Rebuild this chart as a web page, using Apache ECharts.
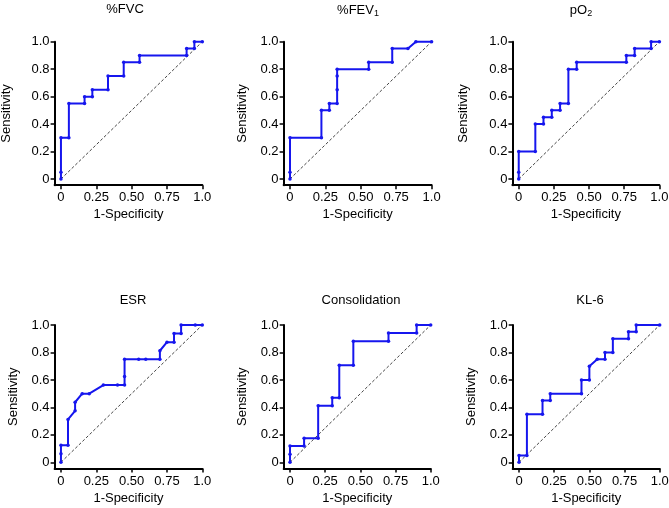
<!DOCTYPE html>
<html>
<head>
<meta charset="utf-8">
<title>ROC curves</title>
<script src="https://cdn.jsdelivr.net/npm/echarts@6/dist/echarts.min.js"></script>
<style>
  html, body { margin: 0; padding: 0; background: #fff; }
  #chart { width: 669px; height: 508px; }
</style>
</head>
<body>
<div id="chart"></div>
<script>
// tick positions and labels
const xTickValues = [0, 0.25, 0.5, 0.75, 1];
const xTickLabels = ['0', '0.25', '0.50', '0.75', '1.0'];
const yTickValues = [0, 0.2, 0.4, 0.6, 0.8, 1];
const yTickLabels = ['0', '0.2', '0.4', '0.6', '0.8', '1.0'];

// panel titles
const panelTitles = ['%FVC', '%FEV{sub|1}', 'pO{sub|2}', 'ESR', 'Consolidation', 'KL-6'];

// ROC points: 1-specificity / sensitivity
const fvcSpec = [0, 0, 0, 0.056, 0.056, 0.167, 0.167, 0.222, 0.222, 0.333, 0.333, 0.444, 0.444, 0.556, 0.556, 0.889, 0.889, 0.944, 0.944, 1];
const fvcSens = [0, 0.05, 0.3, 0.3, 0.55, 0.55, 0.6, 0.6, 0.65, 0.65, 0.75, 0.75, 0.85, 0.85, 0.9, 0.9, 0.95, 0.95, 1, 1];

const fev1Spec = [0, 0, 0, 0.222, 0.222, 0.278, 0.278, 0.333, 0.333, 0.333, 0.333, 0.556, 0.556, 0.722, 0.722, 0.833, 0.889, 1];
const fev1Sens = [0, 0.05, 0.3, 0.3, 0.5, 0.5, 0.55, 0.55, 0.65, 0.75, 0.8, 0.8, 0.85, 0.85, 0.95, 0.95, 1, 1];

const po2Spec = [0, 0, 0, 0.118, 0.118, 0.176, 0.176, 0.235, 0.235, 0.294, 0.294, 0.353, 0.353, 0.412, 0.412, 0.765, 0.765, 0.824, 0.824, 0.941, 0.941, 1];
const po2Sens = [0, 0.05, 0.2, 0.2, 0.4, 0.4, 0.45, 0.45, 0.5, 0.5, 0.55, 0.55, 0.8, 0.8, 0.85, 0.85, 0.9, 0.9, 0.95, 0.95, 1, 1];

const esrSpec = [0, 0, 0, 0.05, 0.05, 0.1, 0.1, 0.15, 0.2, 0.3, 0.4, 0.45, 0.45, 0.45, 0.55, 0.6, 0.7, 0.7, 0.75, 0.8, 0.8, 0.85, 0.85, 0.95, 1];
const esrSens = [0, 0.0625, 0.125, 0.125, 0.3125, 0.375, 0.4375, 0.5, 0.5, 0.5625, 0.5625, 0.5625, 0.625, 0.75, 0.75, 0.75, 0.75, 0.8125, 0.875, 0.875, 0.9375, 0.9375, 1, 1, 1];

const consSpec = [0, 0, 0, 0.1, 0.1, 0.2, 0.2, 0.3, 0.3, 0.35, 0.35, 0.45, 0.45, 0.7, 0.7, 0.9, 0.9, 1];
const consSens = [0, 0.059, 0.118, 0.118, 0.176, 0.176, 0.412, 0.412, 0.471, 0.471, 0.706, 0.706, 0.882, 0.882, 0.941, 0.941, 1, 1];

const kl6Spec = [0, 0, 0.056, 0.056, 0.167, 0.167, 0.222, 0.222, 0.444, 0.444, 0.5, 0.5, 0.556, 0.611, 0.611, 0.667, 0.667, 0.778, 0.778, 0.833, 0.833, 1];
const kl6Sens = [0, 0.05, 0.05, 0.35, 0.35, 0.45, 0.45, 0.5, 0.5, 0.6, 0.6, 0.7, 0.75, 0.75, 0.8, 0.8, 0.9, 0.9, 0.95, 0.95, 1, 1];

const refLine = [0, 1];

const curves = [
  [fvcSpec, fvcSens], [fev1Spec, fev1Sens], [po2Spec, po2Sens],
  [esrSpec, esrSens], [consSpec, consSens], [kl6Spec, kl6Sens]
];

// layout of each panel (pixels)
const grids = [
  { left: 54.6, top: 41.7, width: 147.7, height: 143.5 },
  { left: 283.6, top: 41.7, width: 148, height: 143.5 },
  { left: 512.4, top: 41.7, width: 147, height: 143.5 },
  { left: 54.6, top: 325, width: 147.7, height: 143.5 },
  { left: 283.7, top: 325, width: 147, height: 143.5 },
  { left: 512.7, top: 325, width: 147, height: 143.5 }
];
const titlePos = [[125, 3], [358, 3], [581, 3], [133, 294], [361, 294], [590, 294]];
const yNameGap = [42, 35, 42, 35, 35, 35];

const font = 'Liberation Sans, Arial, sans-serif';
const blue = '#1616ee';

var chart = echarts.init(document.getElementById('chart'));

var option = {
  animation: false,
  title: panelTitles.map(function (t, i) {
    return {
      text: t,
      left: titlePos[i][0],
      top: titlePos[i][1],
      textAlign: 'center',
      padding: 0,
      textStyle: {
        fontFamily: font, fontSize: 13, fontWeight: 'normal', color: '#000',
        rich: { sub: { fontFamily: font, fontSize: 9, color: '#000', verticalAlign: 'bottom', padding: [6, 0, 0, 0] } }
      }
    };
  }),
  grid: grids.map(function (g) {
    return Object.assign({ outerBoundsMode: 'none' }, g);
  }),
  xAxis: grids.map(function (g, i) {
    return {
      type: 'value', gridIndex: i, min: -0.045, max: 1,
      name: '1-Specificity', nameLocation: 'middle', nameGap: 23,
      nameTextStyle: { fontFamily: font, fontSize: 13, color: '#000' },
      axisLine: { show: true, onZero: false, lineStyle: { color: '#000', width: 2 } },
      axisTick: { show: true, customValues: xTickValues, length: 4, lineStyle: { color: '#000', width: 1.5 } },
      axisLabel: {
        customValues: xTickValues, margin: 6,
        fontFamily: font, fontSize: 13, color: '#000',
        formatter: function (v) { return xTickLabels[xTickValues.indexOf(v)]; }
      },
      splitLine: { show: false }
    };
  }),
  yAxis: grids.map(function (g, i) {
    return {
      type: 'value', gridIndex: i, min: -0.045, max: 1,
      name: 'Sensitivity', nameLocation: 'middle', nameGap: yNameGap[i],
      nameTextStyle: { fontFamily: font, fontSize: 13, color: '#000' },
      axisLine: { show: true, onZero: false, lineStyle: { color: '#000', width: 2 } },
      axisTick: { show: true, customValues: yTickValues, length: 4, lineStyle: { color: '#000', width: 1.5 } },
      axisLabel: {
        customValues: yTickValues, margin: 5,
        fontFamily: font, fontSize: 13, color: '#000',
        formatter: function (v) { return yTickLabels[yTickValues.indexOf(v)]; }
      },
      splitLine: { show: false }
    };
  }),
  series: []
};

curves.forEach(function (c, i) {
  option.series.push({
    type: 'line', xAxisIndex: i, yAxisIndex: i,
    data: refLine.map(function (v) { return [v, v]; }),
    symbol: 'none', silent: true, clip: false,
    lineStyle: { color: '#444', width: 1, type: [3, 2] }
  });
  option.series.push({
    type: 'line', xAxisIndex: i, yAxisIndex: i,
    data: c[0].map(function (x, k) { return [x, c[1][k]]; }),
    symbol: 'circle', symbolSize: 3.5, clip: false,
    itemStyle: { color: blue },
    lineStyle: { color: blue, width: 2 }
  });
});

chart.setOption(option);
</script>
</body>
</html>
